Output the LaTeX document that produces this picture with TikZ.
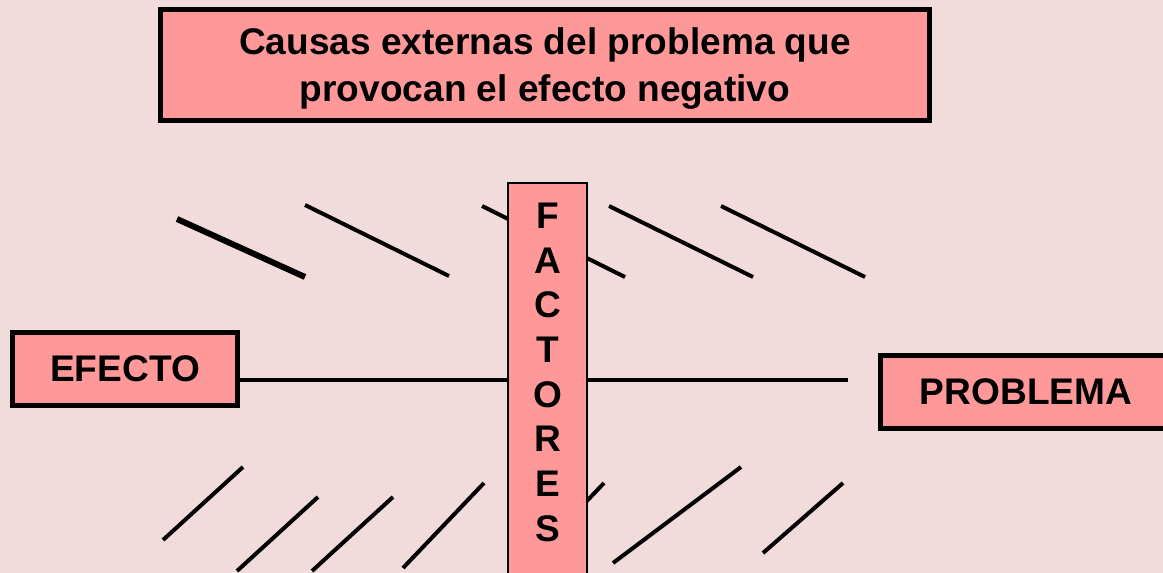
\documentclass[tikz,border=0pt]{standalone}
\usepackage{fontspec}
\setmainfont{Liberation Sans}
\usetikzlibrary{positioning}
\definecolor{bgpink}{HTML}{F2DCDB}
\definecolor{boxpink}{HTML}{FF9999}
\tikzset{
	box/.style={draw,fill=boxpink,rectangle,align=center,inner sep=0pt,font=\bfseries\fontsize{27.8}{35}\selectfont},
	thick box/.style={box,line width=3.75pt},
	bone/.style={line width=3pt}
}
\begin{document}
\begin{tikzpicture}[x=0.75pt,y=-0.75pt]
            \clip (0,0) rectangle (1163,573);
            \fill[bgpink] (0,0) rectangle (1163,573);
            \node[thick box,minimum width=576.75pt,minimum height=83.25pt,text depth=1pt] (causas) at (545,65) {Causas externas del problema que\\provocan el efecto negativo};
            \node[thick box,minimum width=168.75pt,minimum height=54.75pt] (efecto) at (125,369) {EFECTO};
            \node[thick box,minimum width=218.25pt,minimum height=54.75pt] (problema) at (1026,392) {PROBLEMA};
            \coordinate (spine) at (848,380);
            \draw[bone] (efecto.east |- spine) -- (spine);
            \draw[bone,line width=4.5pt] (177,219) -- (305,277);
            \foreach \xa/\ya/\xb/\yb in {305/205/449/276,482/206/625/277,609/206/753/277,721/206/865/277,
                163/540/243/467,237/571/318/497,312/571/393/497,403/568/484/483,523/568/604/483,613/563/741/467,763/553/843/483}
                \draw[bone] (\xa,\ya) -- (\xb,\yb);
            \node[box,line width=1.5pt,anchor=north,minimum width=59.25pt,inner ysep=15pt,text depth=40pt,font=\bfseries\fontsize{27.8}{33.5}\selectfont] (factores) at (547.5,182) {F\\A\\C\\T\\O\\R\\E\\S};
        \end{tikzpicture}
\end{document}
